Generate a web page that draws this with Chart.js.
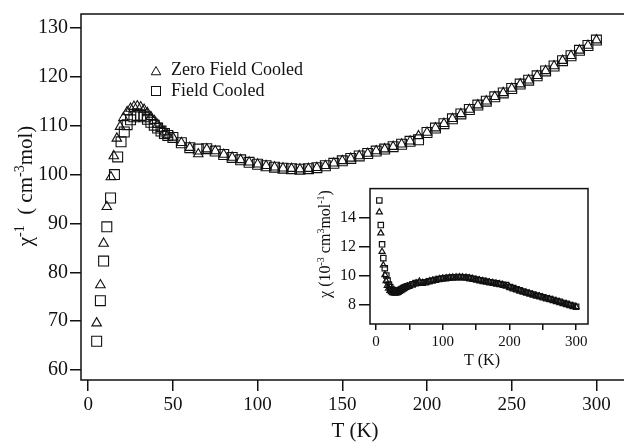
<!DOCTYPE html>
<html>
<head>
<meta charset="utf-8">
<script src="https://cdn.jsdelivr.net/npm/chart.js@4.4.0/dist/chart.umd.min.js"></script>
<style>
  html, body { margin: 0; padding: 0; background: #fff; }
  #wrap { position: relative; width: 624px; height: 442px; overflow: hidden; }
  #main { position: absolute; left: 0; top: 0; }
  #inset { position: absolute; left: 310px; top: 176px; }
</style>
</head>
<body>
<div id="wrap">
  <canvas id="main" width="624" height="442"></canvas>
  <canvas id="inset" width="290" height="196"></canvas>
</div>
<script>
// --- DATA ---
// temperatures (K) and inverse susceptibility (cm^-3 mol)
const tZfc = [5, 7.2, 9.1, 11, 13.4, 15.1, 16.9, 18.8, 20.8, 23, 25, 27, 29, 31, 33, 35, 37, 39, 41, 43, 45, 47, 50,
  55, 60, 65, 70, 75, 80, 85, 90, 95, 100, 105, 110, 115, 120, 125, 130, 135, 140, 145, 150,
  155, 160, 165, 170, 175, 180, 185, 190, 195, 200, 205, 210, 215, 220, 225, 230, 235, 240, 245, 250,
  255, 260, 265, 270, 275, 280, 285, 290, 295, 300];
const chiInvZfc = [69.6, 77.4, 85.9, 93.4, 99.5, 103.8, 107.4, 109.8, 111.6, 112.8, 113.5, 113.9, 114.0, 113.8, 113.3, 112.6, 111.8, 111.0, 110.2, 109.4, 108.7, 108.1, 107.6,
  106.5, 105.5, 104.2, 105.2, 104.8, 104.1, 103.5, 103.0, 102.5, 102.1, 101.8, 101.5, 101.3, 101.2, 101.1, 101.2, 101.4, 101.8, 102.3, 102.8,
  103.3, 103.8, 104.3, 104.8, 105.2, 105.7, 106.2, 106.8, 107.9, 108.6, 109.5, 110.4, 111.4, 112.4, 113.3, 114.2, 115.0, 115.9, 116.7, 117.6,
  118.5, 119.3, 120.2, 121.2, 122.2, 123.3, 124.3, 125.4, 126.4, 127.5];

const tFc = [5, 7.2, 9.1, 11, 13.2, 15.5, 17.4, 19.4, 21.3, 23, 25, 27, 29, 31, 33, 35, 37, 39, 41, 43, 45, 47, 50,
  55, 60, 65, 70, 75, 80, 85, 90, 95, 100, 105, 110, 115, 120, 125, 130, 135, 140, 145, 150,
  155, 160, 165, 170, 175, 180, 185, 190, 195, 200, 205, 210, 215, 220, 225, 230, 235, 240, 245, 250,
  255, 260, 265, 270, 275, 280, 285, 290, 295, 300];
const chiInvFc = [65.9, 74.2, 82.3, 89.3, 95.2, 100.0, 103.6, 106.7, 108.7, 110.2, 111.2, 111.8, 112.1, 112.1, 111.8, 111.3, 110.7, 110.1, 109.5, 108.9, 108.4, 108.0, 107.6,
  106.5, 105.5, 105.2, 105.3, 104.8, 104.1, 103.5, 103.0, 102.5, 102.1, 101.8, 101.5, 101.3, 101.2, 101.1, 101.2, 101.4, 101.8, 102.3, 102.8,
  103.3, 103.8, 104.3, 104.8, 105.2, 105.7, 106.2, 106.8, 107.1, 108.6, 109.5, 110.4, 111.4, 112.4, 113.3, 114.2, 115.0, 115.9, 116.7, 117.6,
  118.5, 119.3, 120.2, 121.2, 122.2, 123.3, 124.3, 125.4, 126.4, 127.5];

const mainTTicks = [0, 50, 100, 150, 200, 250, 300];
const mainChiInvTicks = [60, 70, 80, 90, 100, 110, 120, 130];
const insetTTicks = [0, 50, 100, 150, 200, 250, 300];
const insetChiTicks = [8, 10, 12, 14];

const seriesNames = ['Zero Field Cooled', 'Field Cooled'];

// --- HELPERS ---
const SERIF = "'Liberation Serif', 'Times New Roman', serif";
const INK = '#111';

const pairs = (xs, ys) => xs.map((x, i) => ({ x, y: ys[i] }));
// chi in 10^-3 cm^3/mol is the reciprocal of chi^-1
const toChi = ys => ys.map(v => 1000 / v);

const fixedWidth = w => s => { s.width = w; };
const fixedHeight = h => s => { s.height = h; };
const onlyTicks = values => s => { s.ticks = values.map(v => ({ value: v })); };

// text with superscript parts: [[text, isSup], ...]
function drawRich(ctx, parts, cx, cy, size, rotate) {
    const supSize = Math.round(size * 0.65);
    ctx.save();
    ctx.translate(cx, cy);
    if (rotate) ctx.rotate(-Math.PI / 2);
    ctx.fillStyle = INK;
    ctx.textBaseline = 'alphabetic';
    let total = 0;
    const widths = parts.map(([t, sup]) => {
        ctx.font = (sup ? supSize : size) + 'px ' + SERIF;
        const w = ctx.measureText(t).width;
        total += w;
        return w;
    });
    let x = -total / 2;
    const base = size * 0.35;
    parts.forEach(([t, sup], i) => {
        ctx.font = (sup ? supSize : size) + 'px ' + SERIF;
        ctx.fillText(t, x, sup ? base - size * 0.38 : base);
        x += widths[i];
    });
    ctx.restore();
}

function tri(ctx, x, y, r) {
    ctx.beginPath();
    ctx.moveTo(x, y - r);
    ctx.lineTo(x + r * 0.866, y + r / 2);
    ctx.lineTo(x - r * 0.866, y + r / 2);
    ctx.closePath();
    ctx.stroke();
}

// --- MAIN PLOT ---
const mainDecor = {
    id: 'mainDecor',
    afterDraw(chart) {
        const { ctx, chartArea: a } = chart;
        ctx.save();
        ctx.strokeStyle = INK;
        ctx.lineWidth = 1.5;
        ctx.beginPath();
        ctx.moveTo(chart.width, a.top);
        ctx.lineTo(a.left, a.top);
        ctx.lineTo(a.left, a.bottom);
        ctx.lineTo(chart.width, a.bottom);
        ctx.stroke();

        // legend
        ctx.lineWidth = 1;
        tri(ctx, 156, 72, 5.5);
        ctx.strokeRect(151.5, 86.5, 9, 9);
        ctx.fillStyle = INK;
        ctx.font = '18px ' + SERIF;
        ctx.textBaseline = 'middle';
        ctx.fillText(seriesNames[0], 171, 70);
        ctx.fillText(seriesNames[1], 171, 91);

        ctx.font = '21px ' + SERIF;
        ctx.textAlign = 'center';
        ctx.fillText('T (K)', 355, 431);
        ctx.restore();

        drawRich(ctx, [['χ', 0], ['-1', 1], ['  ( cm', 0], ['-3', 1], ['mol)', 0]], 25, 186, 21, true);
    }
};

new Chart(document.getElementById('main'), {
    type: 'scatter',
    data: {
        datasets: [
            { label: seriesNames[0], data: pairs(tZfc, chiInvZfc), pointStyle: 'triangle', pointRadius: 5.5,
              borderColor: INK, backgroundColor: 'rgba(0,0,0,0)', borderWidth: 1.1 },
            { label: seriesNames[1], data: pairs(tFc, chiInvFc), pointStyle: 'rect', pointRadius: 7,
              borderColor: INK, backgroundColor: 'rgba(0,0,0,0)', borderWidth: 1.1 }
        ]
    },
    options: {
        responsive: false, animation: false, devicePixelRatio: 1,
        layout: { padding: { top: 11, right: 0, left: 0, bottom: 0 } },
        plugins: { legend: { display: false }, tooltip: { enabled: false } },
        scales: {
            x: {
                type: 'linear', min: -4.24, max: 311.5,
                afterFit: fixedHeight(62), afterBuildTicks: onlyTicks(mainTTicks),
                border: { display: false },
                grid: { drawOnChartArea: false, tickLength: 11, color: INK, lineWidth: 1.5 },
                ticks: { color: INK, font: { family: SERIF, size: 19 }, padding: 3, maxRotation: 0 }
            },
            y: {
                type: 'linear', min: 57.97, max: 132.84,
                afterFit: fixedWidth(81), afterBuildTicks: onlyTicks(mainChiInvTicks),
                border: { display: false },
                grid: { drawOnChartArea: false, tickLength: 11, color: INK, lineWidth: 1.5 },
                ticks: { color: INK, font: { family: SERIF, size: 20 }, padding: 2 }
            }
        }
    },
    plugins: [mainDecor]
});

// --- INSET ---
const insetDecor = {
    id: 'insetDecor',
    afterDraw(chart) {
        const { ctx, chartArea: a } = chart;
        ctx.save();
        ctx.strokeStyle = INK;
        ctx.lineWidth = 1.5;
        ctx.strokeRect(a.left, a.top, a.right - a.left, a.bottom - a.top);
        ctx.fillStyle = INK;
        ctx.font = '16px ' + SERIF;
        ctx.textAlign = 'center';
        ctx.textBaseline = 'middle';
        ctx.fillText('T (K)', 172, 185);
        ctx.restore();

        drawRich(ctx, [['χ (10', 0], ['-3', 1], [' cm', 0], ['3', 1], ['mol', 0], ['-1', 1], [')', 0]], 14, 68, 16, true);
    }
};

new Chart(document.getElementById('inset'), {
    type: 'scatter',
    data: {
        datasets: [
            { data: pairs(tZfc, toChi(chiInvZfc)), pointStyle: 'triangle', pointRadius: 3.5,
              borderColor: INK, backgroundColor: 'rgba(0,0,0,0)', borderWidth: 1.2 },
            { data: pairs(tFc, toChi(chiInvFc)), pointStyle: 'rect', pointRadius: 3.8,
              borderColor: INK, backgroundColor: 'rgba(0,0,0,0)', borderWidth: 1.2 }
        ]
    },
    options: {
        responsive: false, animation: false, devicePixelRatio: 1,
        layout: { padding: { top: 8, right: 12, left: 0, bottom: 0 } },
        plugins: { legend: { display: false }, tooltip: { enabled: false } },
        scales: {
            x: {
                type: 'linear', min: -8.98, max: 317.8,
                afterFit: fixedHeight(48), afterBuildTicks: onlyTicks(insetTTicks),
                border: { display: false },
                grid: { drawOnChartArea: false, tickLength: 6, color: INK, lineWidth: 1.5 },
                ticks: { color: INK, font: { family: SERIF, size: 15 }, padding: 3, maxRotation: 0, autoSkip: false,
                         callback: v => (v % 100 === 0 ? v : '') }
            },
            y: {
                type: 'linear', min: 6.66, max: 15.99,
                afterFit: fixedWidth(60), afterBuildTicks: onlyTicks(insetChiTicks),
                border: { display: false },
                grid: { drawOnChartArea: false, tickLength: 11, color: INK, lineWidth: 1.5 },
                ticks: { color: INK, font: { family: SERIF, size: 16 }, padding: 3 }
            }
        }
    },
    plugins: [insetDecor]
});
</script>
</body>
</html>
